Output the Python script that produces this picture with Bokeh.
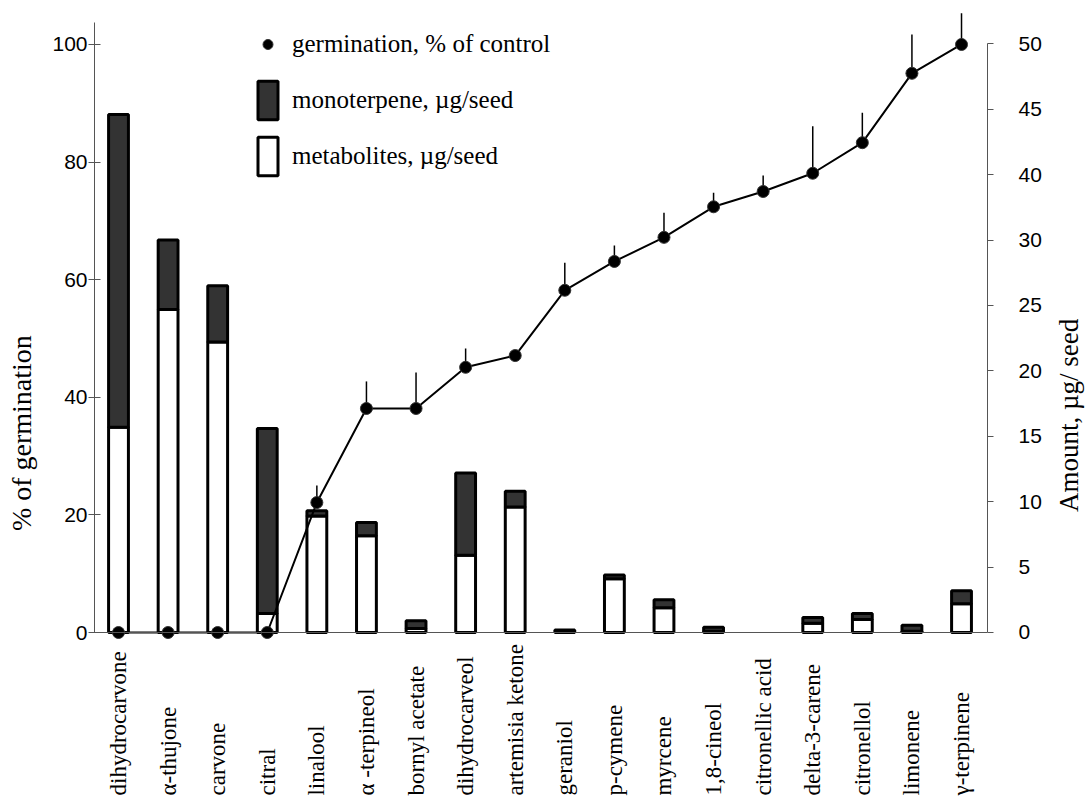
import numpy as np
from math import pi
from bokeh.plotting import figure
from bokeh.layouts import row
from bokeh.models import (Range1d, LinearAxis, FixedTicker, Span, LabelSet, Label,
                          ColumnDataSource, Legend, LegendItem)
from bokeh.embed import file_html
from bokeh.resources import INLINE
from bokeh.core.properties import value

# ---------------- data ----------------
compounds = ["dihydrocarvone", "α-thujone", "carvone", "citral", "linalool",
             "α -terpineol", "bornyl acetate", "dihydrocarveol", "artemisia ketone",
             "geraniol", "p-cymene", "myrcene", "1,8-cineol", "citronellic acid",
             "delta-3-carene", "citronellol", "limonene", "γ-terpinene"]
germination = [0, 0, 0, 0, 22.1, 38.1, 38.1, 45.1, 47.1, 58.2, 63.1, 67.2,
               72.4, 75.0, 78.1, 83.3, 95.1, 100]
germination_err = [0, 0, 0, 0, 2.9, 4.6, 6.1, 3.2, 0, 4.7, 2.7, 4.2,
                   2.4, 2.7, 8.0, 5.1, 6.6, 5.3]
metabolites = [15.7, 24.7, 22.2, 1.45, 8.9, 7.4, 0.3, 5.9, 9.6, 0, 4.1, 1.9,
               0.1, 0, 0.7, 1.0, 0.1, 2.2]
monoterpene = [23.9, 5.3, 4.3, 14.15, 0.4, 1.0, 0.6, 6.3, 1.2, 0.2, 0.3, 0.6,
               0.3, 0, 0.45, 0.45, 0.45, 1.0]
right_ticks = [0, 5, 10, 15, 20, 25, 30, 35, 40, 45]
right_tick_labels = ["0", "5", "10", "15", "20", "25", "30", "40", "45", "50"]
left_ticks = [0, 20, 40, 60, 80, 100]
left_title = "% of germination"
right_title = "Amount, µg/ seed"

# ---------------- derived ----------------
idx = np.arange(len(compounds))
germ = np.array(germination, dtype=float)
err = np.array(germination_err, dtype=float)
met = np.array(metabolites, dtype=float)
mono = np.array(monoterpene, dtype=float)
total = met + mono

SERIF = "Liberation Serif"
SANS = "Liberation Sans"
H = 804
LW, RW = 48, 40          # side text panels
MW = 1086 - LW - RW      # main figure width

p = figure(width=MW, height=H, output_backend="svg", toolbar_location=None,
           x_range=Range1d(-0.484, 17.524), y_range=Range1d(-29.25, 105.44),
           min_border_left=94 - LW, min_border_right=(LW + MW) - 987,
           min_border_top=12, min_border_bottom=0)
p.outline_line_color = None
p.xgrid.visible = False
p.ygrid.visible = False
p.xaxis.visible = False
p.background_fill_color = "white"

# left axis
ya = p.yaxis[0]
ya.ticker = FixedTicker(ticks=left_ticks)
ya.bounds = (0, 103.8)
ya.axis_line_color = "#555555"
ya.major_tick_line_color = "#555555"
ya.major_tick_in = 6
ya.major_tick_out = 6
ya.minor_tick_line_color = None
ya.major_label_standoff = 1
ya.major_label_text_font = SANS
ya.major_label_text_font_size = "21px"
ya.major_label_text_color = "black"

# right axis
p.extra_y_ranges = {"amount": Range1d(-13.15, 47.40)}
ra = LinearAxis(y_range_name="amount",
                ticker=FixedTicker(ticks=right_ticks),
                major_label_overrides={t: l for t, l in zip(right_ticks, right_tick_labels)},
                bounds=(0, 45))
ra.axis_line_color = "#555555"
ra.major_tick_line_color = "#555555"
ra.major_tick_in = 0
ra.major_tick_out = 6
ra.minor_tick_line_color = None
ra.major_label_standoff = 25
ra.major_label_text_font = SANS
ra.major_label_text_font_size = "21px"
ra.major_label_text_color = "black"
p.add_layout(ra, "right")

# baseline
p.add_layout(Span(location=0, dimension="width", line_color="#555555", line_width=1))

# bars (stacked)
wmask = met > 0
white_src = ColumnDataSource(dict(x=idx[wmask], top=met[wmask]))
dmask = mono > 0
dark_src = ColumnDataSource(dict(x=idx[dmask], bottom=met[dmask], top=total[dmask]))
white = p.vbar(x="x", bottom=0, top="top", width=0.4, source=white_src,
               fill_color="white", line_color="black", line_width=3,
               y_range_name="amount")
dark = p.vbar(x="x", bottom="bottom", top="top", width=0.4, source=dark_src,
              fill_color="#333333", line_color="black", line_width=3,
              y_range_name="amount")

# germination line, error bars, points
p.line(idx, germ, line_color="black", line_width=2)
emask = err > 0
p.segment(x0=idx[emask], y0=germ[emask], x1=idx[emask], y1=(germ + err)[emask],
          line_color="black", line_width=1.5)
dots = p.scatter(idx, germ, size=12, marker="circle", fill_color="black",
                 line_color="#333333")

# legend
legend = Legend(items=[LegendItem(label="germination, % of control", renderers=[dots]),
                       LegendItem(label="monoterpene, µg/seed", renderers=[dark]),
                       LegendItem(label="metabolites, µg/seed", renderers=[white])],
                location=(161, 624), glyph_width=25, glyph_height=48, spacing=8,
                padding=0, margin=0, label_standoff=12,
                label_text_font=SERIF, label_text_font_size="25px",
                label_text_color="black",
                border_line_alpha=0, background_fill_alpha=0)
p.add_layout(legend)

# category labels (bottom aligned, reading upward)
lab_src = ColumnDataSource(dict(x=idx, y=np.full(len(idx), -27.72), text=compounds))
p.add_layout(LabelSet(x="x", y="y", text="text", source=lab_src, angle=pi / 2,
                      text_align="left", text_baseline="middle",
                      text_font=value(SERIF), text_font_size=value("23px"),
                      text_color="black"))


# side panels holding the axis titles (pixel coordinate ranges)
def side_panel(width, x0):
    f = figure(width=width, height=H, output_backend="svg", toolbar_location=None,
               title=None,
               x_range=Range1d(x0, x0 + width), y_range=Range1d(H, 0),
               min_border=0, min_border_left=0, min_border_right=0,
               min_border_top=0, min_border_bottom=0)
    f.axis.visible = False
    f.grid.visible = False
    f.outline_line_color = None
    return f


pl = side_panel(LW, 0)
pl.add_layout(Label(x=21, y=427, text=left_title, angle=pi / 2,
                    text_align="center", text_baseline="middle",
                    text_font=SERIF, text_font_size="28px", text_color="black"))
pr = side_panel(RW, LW + MW)
pr.add_layout(Label(x=1068, y=409, text=right_title, angle=pi / 2,
                    text_align="center", text_baseline="middle",
                    text_font=SERIF, text_font_size="27px", text_color="black"))

layout = row(pl, p, pr, spacing=0)
open("out.html", "w").write(file_html(layout, INLINE))
